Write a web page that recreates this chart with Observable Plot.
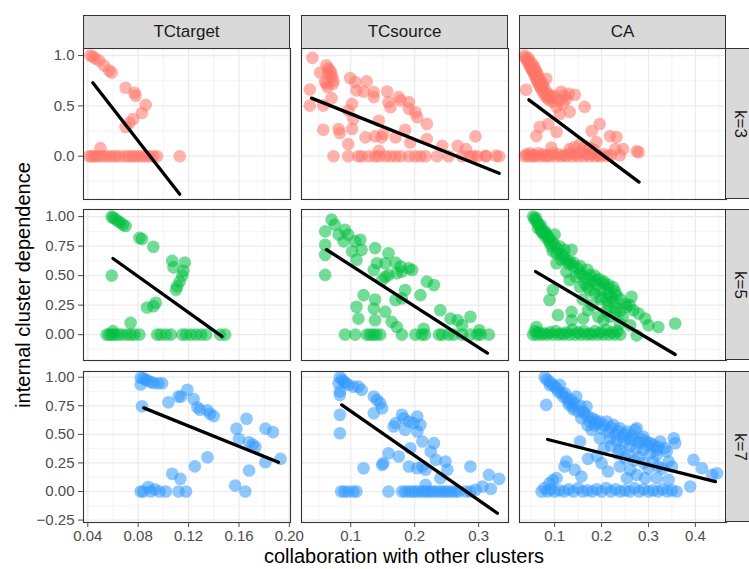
<!DOCTYPE html>
<html><head><meta charset="utf-8">
<script src="https://cdn.jsdelivr.net/npm/d3@7"></script>
<script src="https://cdn.jsdelivr.net/npm/@observablehq/plot@0.6"></script>
<style>
html,body{margin:0;padding:0;background:#fff;overflow:hidden;}
#chart{position:relative;width:749px;height:569px;overflow:hidden;font-family:"Liberation Sans",Arial,sans-serif;}
.panel{position:absolute;overflow:visible;}
.strip{position:absolute;box-sizing:border-box;background:#d9d9d9;border:1px solid #333;color:#1a1a1a;font-size:17px;display:flex;align-items:center;justify-content:center;}
.strip.right{justify-content:flex-start;padding-left:6px;border-right:none;}
.strip span.v{writing-mode:vertical-rl;line-height:17px;}
.title{position:absolute;color:#000;font-size:20px;white-space:nowrap;}
</style></head>
<body><div id="chart"></div>
<script>
const methods = ["TCtarget", "TCsource", "CA"];
const kLabels = ["k=3", "k=5", "k=7"];
const colors = ["#FF7468", "#00BF40", "#3399FF"];
const xTitle = "collaboration with other clusters";
const yTitle = "internal cluster dependence";

const xDomains = [[0.0366, 0.2009], [0.023, 0.3466], [0.025, 0.4664]];
const yDomains = [[-0.43, 1.07], [-0.219, 1.06], [-0.271, 1.05]];
const xMajor = [[0.04, 0.08, 0.12, 0.16, 0.20], [0.1, 0.2, 0.3], [0.1, 0.2, 0.3, 0.4]];
const xMinor = [[0.06, 0.10, 0.14, 0.18], [0.05, 0.15, 0.25], [0.05, 0.15, 0.25, 0.35, 0.45]];
const yMajor = [[0, 0.5, 1], [0, 0.25, 0.5, 0.75, 1], [-0.25, 0, 0.25, 0.5, 0.75, 1]];
const yMinor = [[-0.25, 0.25, 0.75], [-0.125, 0.125, 0.375, 0.625, 0.875], [-0.125, 0.125, 0.375, 0.625, 0.875]];
const xDecimals = [2, 1, 1];
const yDecimals = [1, 2, 2];

// ---- k=3 ----
const tgtK3 = [[0.042,1.0],[0.044,0.99],[0.046,0.97],[0.049,0.95],[0.053,0.9],[0.057,0.85],[0.059,0.83],[0.070,0.68],[0.077,0.63],[0.078,0.60],[0.086,0.51],[0.083,0.43],[0.076,0.37],[0.073,0.33],[0.070,0.29],[0.050,0.08],
 [0.041,0],[0.043,0],[0.045,0],[0.047,0],[0.050,0],[0.053,0],[0.056,0],[0.059,0],[0.062,0],[0.065,0],[0.069,0],[0.072,0],[0.075,0],[0.077,0],[0.080,0],[0.083,0],[0.086,0],[0.089,0],[0.092,0],[0.095,0],[0.113,0]];
const srcK3 = [[0.040,0.977],[0.052,0.83],[0.062,0.903],[0.065,0.87],[0.068,0.85],[0.070,0.82],[0.064,0.82],[0.070,0.787],[0.073,0.753],[0.060,0.737],[0.062,0.72],[0.072,0.72],[0.064,0.687],[0.036,0.663],[0.036,0.503],[0.057,0.503],[0.070,0.577],
 [0.099,0.777],[0.107,0.737],[0.125,0.743],[0.109,0.653],[0.120,0.643],[0.136,0.637],[0.136,0.587],[0.102,0.52],[0.096,0.453],[0.104,0.37],
 [0.157,0.643],[0.159,0.537],[0.162,0.487],[0.175,0.587],[0.178,0.553],[0.191,0.537],[0.191,0.47],[0.201,0.437],[0.204,0.387],[0.219,0.32],
 [0.144,0.353],[0.151,0.22],[0.057,0.263],[0.081,0.27],[0.083,0.23],[0.102,0.27],[0.096,0.12],
 [0.123,0.187],[0.138,0.197],[0.148,0.187],[0.170,0.187],[0.185,0.263],[0.193,0.137],[0.219,0.17],[0.243,0.103],[0.267,0.103],[0.280,0.07],[0.295,0.197],[0.311,0.003],[0.327,0.003],[0.332,0],[0.144,0.053],
 [0.073,0],[0.096,0],[0.112,0],[0.117,0],[0.128,0],[0.138,0],[0.144,0],[0.154,0],[0.162,0],[0.170,0],[0.178,0],[0.191,0],[0.201,0],[0.209,0],[0.217,0],[0.235,0],[0.253,0],[0.274,0],[0.287,0],[0.292,0],[0.298,0],[0.311,0]];
const caK3 = [[0.036,1.0],[0.038,0.98],[0.040,0.96],[0.042,0.95],[0.044,0.93],[0.046,0.91],[0.048,0.89],[0.050,0.87],[0.052,0.86],[0.054,0.84],[0.056,0.82],[0.058,0.80],[0.060,0.78],[0.062,0.76],[0.064,0.74],[0.066,0.72],[0.068,0.70],[0.070,0.68],[0.073,0.66],[0.076,0.63],[0.080,0.60],[0.084,0.58],[0.088,0.56],[0.050,0.93],[0.056,0.88],[0.062,0.83],[0.068,0.77],[0.074,0.72],
 [0.045,0.97],[0.055,0.9],[0.065,0.8],[0.075,0.7],[0.085,0.62],[0.090,0.6],[0.095,0.58],[0.080,0.66],[0.070,0.74],[0.060,0.85],[0.120,0.6],[0.130,0.62],
 [0.039,0.66],[0.082,0.77],[0.114,0.64],[0.143,0.61],[0.125,0.57],[0.096,0.54],[0.104,0.49],[0.132,0.44],[0.164,0.49],[0.111,0.42],[0.068,0.29],[0.061,0.2],[0.104,0.24],[0.086,0.32],[0.196,0.32],[0.179,0.25],[0.189,0.14],[0.218,0.2],[0.232,0.19],[0.229,0.07],[0.246,0.07],[0.239,0.01],[0.275,0.05],[0.279,0.04],[0.093,0.087],[0.100,0.6],[0.110,0.55],[0.118,0.52],
 [0.132,0.07],[0.142,0.09],[0.154,0.12],[0.165,0.1],[0.175,0.08],[0.185,0.06],
 [0.036,0.0],[0.040,0.02],[0.044,0.0],[0.048,0.03],[0.052,0.0],[0.056,0.01],[0.060,0.0],[0.065,0.03],[0.070,0.0],[0.075,0.02],[0.080,0.0],[0.085,0.01],[0.090,0.0],[0.096,0.03],[0.102,0.0],[0.108,0.02],[0.114,0.0],[0.120,0.01],[0.126,0.0],[0.132,0.03],[0.138,0.0],[0.144,0.02],[0.150,0.0],[0.156,0.04],[0.162,0.0],[0.168,0.02],[0.174,0.0],[0.180,0.03],[0.186,0.0],[0.192,0.01],[0.198,0.0],[0.205,0.02],[0.212,0.0],[0.220,0.01]];

// ---- k=5 ----
const tgtK5 = [[0.059,1.0],[0.060,0.99],[0.062,0.98],[0.064,0.96],[0.066,0.95],[0.068,0.93],[0.070,0.92],[0.081,0.82],[0.083,0.81],[0.092,0.745],[0.107,0.625],[0.108,0.57],[0.117,0.61],[0.116,0.54],[0.115,0.5],[0.113,0.45],[0.111,0.41],[0.110,0.38],[0.094,0.27],[0.092,0.24],[0.087,0.23],[0.074,0.1],[0.059,0.5],[0.060,0.03],
 [0.055,0],[0.057,0],[0.059,0],[0.061,0],[0.064,0],[0.067,0],[0.071,0],[0.074,0],[0.077,0],[0.081,0],[0.095,0],[0.098,0],[0.102,0],[0.106,0],[0.115,0],[0.118,0],[0.122,0],[0.126,0],[0.130,0],[0.134,0],[0.145,0],[0.149,0]];
const srcK5 = [[0.070,0.974],[0.075,0.932],[0.060,0.875],[0.091,0.889],[0.096,0.847],[0.081,0.847],[0.089,0.79],[0.107,0.79],[0.115,0.804],[0.117,0.719],[0.102,0.705],[0.109,0.634],[0.060,0.761],[0.060,0.676],[0.060,0.506],
 [0.138,0.733],[0.159,0.69],[0.141,0.605],[0.154,0.605],[0.170,0.611],[0.178,0.577],[0.180,0.534],[0.191,0.563],[0.196,0.548],[0.154,0.491],[0.136,0.548],[0.149,0.463],[0.159,0.506],[0.172,0.52],
 [0.219,0.449],[0.230,0.42],[0.209,0.335],[0.185,0.378],[0.180,0.307],[0.170,0.293],
 [0.120,0.335],[0.138,0.298],[0.109,0.236],[0.112,0.136],[0.136,0.222],[0.138,0.122],[0.154,0.193],[0.164,0.108],[0.172,0.065],
 [0.240,0.207],[0.256,0.136],[0.267,0.122],[0.287,0.151],[0.274,0.08],[0.214,0.05],[0.301,0.037],
 [0.091,0],[0.107,0],[0.125,0],[0.130,0],[0.135,0],[0.140,0],[0.146,0],[0.180,0],[0.201,0],[0.211,0],[0.216,0],[0.238,0],[0.243,0],[0.253,0],[0.261,0],[0.274,0],[0.287,0],[0.298,0],[0.303,0],[0.316,0]];
const caK5 = [[0.054,1.0],[0.057,0.98],[0.061,0.96],[0.064,0.94],[0.068,0.918],[0.071,0.89],[0.075,0.861],[0.080,0.83],[0.086,0.804],[0.090,0.775],[0.093,0.747],[0.100,0.847],[0.096,0.705],[0.104,0.69],[0.111,0.747],[0.121,0.719],[0.136,0.719],[0.104,0.605],[0.114,0.634],[0.132,0.619],[0.060,0.99],[0.070,0.93],[0.078,0.88],[0.083,0.85],
 [0.065,0.9],[0.072,0.87],[0.080,0.86],[0.088,0.82],[0.095,0.79],[0.100,0.76],[0.108,0.72],[0.115,0.68],[0.120,0.66],[0.125,0.63],[0.130,0.6],[0.140,0.61],[0.155,0.58],[0.170,0.55],[0.185,0.5],[0.195,0.47],[0.205,0.45],[0.215,0.42],[0.225,0.4],[0.170,0.4],[0.185,0.35],[0.200,0.3],[0.215,0.25],[0.230,0.19],[0.245,0.15],[0.210,0.2],[0.180,0.25],[0.160,0.3],[0.240,0.3],[0.260,0.25],
 [0.125,0.534],[0.154,0.52],[0.168,0.477],[0.175,0.506],[0.189,0.463],[0.204,0.435],[0.214,0.392],[0.229,0.364],[0.232,0.335],[0.132,0.463],[0.154,0.406],[0.175,0.378],[0.196,0.321],[0.211,0.293],[0.225,0.278],[0.140,0.58],[0.150,0.56],[0.160,0.5],[0.180,0.45],[0.190,0.42],[0.200,0.38],[0.165,0.43],[0.145,0.49],[0.215,0.35],[0.220,0.32],
 [0.096,0.378],[0.089,0.293],[0.107,0.165],[0.136,0.193],[0.136,0.122],[0.161,0.136],[0.171,0.207],[0.193,0.151],[0.204,0.122],[0.218,0.151],[0.264,0.321],[0.254,0.236],[0.268,0.207],[0.279,0.179],[0.293,0.136],[0.300,0.08],[0.321,0.065],[0.357,0.094],[0.275,-0.006],[0.239,0.094],[0.261,0.08],[0.061,0.065],[0.250,0.26],[0.240,0.2],[0.230,0.23],
 [0.054,0.0],[0.058,0.03],[0.062,0.0],[0.066,0.02],[0.072,0.0],[0.078,0.01],[0.084,0.0],[0.090,0.02],[0.096,0.0],[0.102,0.03],[0.108,0.0],[0.114,0.01],[0.120,0.0],[0.126,0.02],[0.132,0.0],[0.138,0.04],[0.144,0.0],[0.150,0.02],[0.156,0.0],[0.162,0.03],[0.168,0.0],[0.174,0.01],[0.180,0.0],[0.186,0.03],[0.192,0.0],[0.198,0.02],[0.204,0.0],[0.210,0.04],[0.216,0.0],[0.222,0.02],[0.228,0.0],[0.234,0.03],[0.240,0.0]];

// ---- k=7 ----
const tgtK7 = [[0.082,0.995],[0.084,0.99],[0.086,0.98],[0.087,0.97],[0.090,0.96],[0.092,0.95],[0.096,0.947],[0.099,0.947],[0.082,0.936],[0.083,0.746],[0.104,0.78],[0.112,0.83],[0.114,0.83],[0.119,0.89],[0.124,0.81],[0.127,0.737],[0.129,0.715],[0.135,0.71],[0.137,0.68],[0.140,0.66],[0.158,0.55],[0.160,0.46],[0.166,0.636],[0.168,0.43],[0.171,0.41],[0.173,0.39],[0.181,0.55],[0.187,0.52],[0.181,0.256],[0.193,0.286],[0.168,0.184],[0.135,0.3],[0.125,0.22],[0.107,0.155],[0.1135,0.111],[0.157,0.052],[0.165,0.0],
 [0.082,0],[0.084,0],[0.088,0.04],[0.090,0],[0.093,0.02],[0.097,0.0],[0.102,0],[0.112,0],[0.118,0]];
const srcK7 = [[0.083,1.0],[0.081,0.947],[0.083,0.875],[0.089,0.962],[0.096,0.933],[0.104,0.918],[0.112,0.918],[0.117,0.889],[0.083,0.845],[0.083,0.671],[0.083,0.51],[0.086,0.98],[0.092,0.95],
 [0.136,0.831],[0.141,0.802],[0.146,0.773],[0.149,0.729],[0.136,0.685],
 [0.180,0.671],[0.183,0.641],[0.170,0.598],[0.167,0.569],[0.191,0.612],[0.204,0.656],[0.198,0.598],[0.204,0.525],[0.185,0.539],[0.209,0.583],
 [0.212,0.437],[0.230,0.423],[0.225,0.35],[0.233,0.277],[0.248,0.262],[0.251,0.19],[0.240,0.117],
 [0.193,0.379],[0.175,0.306],[0.159,0.335],[0.151,0.248],[0.149,0.233],[0.191,0.219],[0.204,0.204],[0.212,0.219],[0.217,0.19],[0.120,0.204],
 [0.287,0.219],[0.316,0.146],[0.332,0.111],[0.319,0.023],[0.306,0.044],[0.295,0.015],[0.217,0.058],
 [0.085,0],[0.090,0],[0.096,0],[0.104,0],[0.109,0],[0.159,0],[0.180,0],[0.185,0],[0.191,0],[0.196,0],[0.201,0],[0.206,0],[0.212,0],[0.217,0],[0.222,0],[0.227,0],[0.232,0],[0.238,0],[0.243,0],[0.248,0],[0.253,0],[0.259,0],[0.264,0],[0.269,0],[0.280,0],[0.287,0]];
const caK7 = [[0.079,1.0],[0.083,0.98],[0.089,0.962],[0.095,0.94],[0.100,0.918],[0.107,0.875],[0.111,0.933],[0.118,0.831],[0.129,0.787],[0.139,0.743],[0.146,0.831],[0.168,0.743],[0.150,0.7],[0.157,0.641],[0.164,0.685],[0.082,0.758],[0.122,0.86],[0.135,0.8],[0.142,0.77],[0.155,0.75],
 [0.090,0.93],[0.105,0.9],[0.115,0.86],[0.125,0.82],[0.130,0.76],[0.140,0.72],[0.160,0.7],[0.170,0.66],[0.180,0.64],[0.190,0.6],[0.205,0.58],[0.220,0.56],[0.235,0.53],[0.250,0.5],[0.265,0.49],[0.285,0.46],[0.295,0.44],[0.310,0.41],[0.320,0.39],[0.335,0.38],[0.220,0.4],[0.235,0.33],[0.250,0.29],[0.270,0.27],[0.290,0.25],[0.300,0.2],[0.320,0.22],[0.205,0.38],[0.190,0.31],
 [0.175,0.612],[0.186,0.627],[0.196,0.612],[0.211,0.612],[0.225,0.583],[0.239,0.554],[0.254,0.525],[0.271,0.539],[0.275,0.554],[0.289,0.481],[0.304,0.423],[0.318,0.364],[0.325,0.437],[0.354,0.466],[0.357,0.423],[0.339,0.35],[0.343,0.262],[0.350,0.219],
 [0.179,0.539],[0.196,0.466],[0.218,0.466],[0.232,0.437],[0.246,0.423],[0.261,0.394],[0.275,0.379],[0.289,0.364],[0.304,0.335],[0.318,0.321],[0.239,0.364],[0.257,0.321],[0.200,0.55],[0.215,0.52],[0.230,0.5],[0.245,0.48],[0.260,0.46],[0.280,0.43],[0.300,0.4],[0.270,0.45],[0.185,0.58],[0.170,0.58],
 [0.154,0.437],[0.171,0.286],[0.125,0.262],[0.143,0.19],[0.157,0.131],[0.121,0.219],[0.200,0.248],[0.214,0.175],[0.239,0.219],[0.261,0.19],[0.254,0.117],[0.275,0.146],[0.293,0.117],[0.318,0.117],[0.343,0.102],[0.396,0.277],[0.414,0.204],[0.436,0.146],[0.446,0.16],[0.389,0.044],[0.104,0.117],[0.089,0.073],[0.096,0.1],[0.280,0.3],[0.310,0.26],[0.330,0.2],
 [0.072,0.0],[0.078,0.03],[0.085,0.0],[0.092,0.02],[0.100,0.0],[0.110,0.01],[0.120,0.0],[0.130,0.02],[0.140,0.0],[0.150,0.03],[0.160,0.0],[0.170,0.01],[0.180,0.0],[0.190,0.02],[0.200,0.0],[0.210,0.03],[0.220,0.0],[0.230,0.02],[0.240,0.0],[0.250,0.01],[0.260,0.0],[0.270,0.03],[0.280,0.0],[0.290,0.02],[0.300,0.0],[0.310,0.01],[0.320,0.0],[0.330,0.02],[0.340,0.0],[0.350,0.01],[0.360,0.0]];

// fitted regression lines: [[x1, y1], [x2, y2]]
const fitK3 = [[[0.044,0.73],[0.113,-0.377]], [[0.0387,0.577],[0.332,-0.17]], [[0.045,0.56],[0.28,-0.257]]];
const fitK5 = [[[0.060,0.645],[0.1465,-0.015]], [[0.0623,0.719],[0.3136,-0.156]], [[0.0593,0.534],[0.3571,-0.168]]];
const fitK7 = [[[0.0844,0.732],[0.1913,0.256]], [[0.0859,0.758],[0.3293,-0.19]], [[0.0850,0.455],[0.4429,0.087]]];

const points = [[tgtK3, srcK3, caK3], [tgtK5, srcK5, caK5], [tgtK7, srcK7, caK7]];
const fits = [fitK3, fitK5, fitK7];

const colLeft = [83, 301, 519];
const rowTop = [48, 209, 371];
const W = 207, H = 151;
const fontFamily = "'Liberation Sans', Arial, sans-serif";
const fmt = (dec) => (d) => d.toFixed(dec).replace("-", "\u2212");

const chart = document.getElementById("chart");

for (let r = 0; r < 3; r++) {
  for (let c = 0; c < 3; c++) {
    const ml = c === 0 ? 84 : 1, mr = 1, mt = 1, mb = r === 2 ? 48 : 1;
    const svg = Plot.plot({
      width: ml + W + mr, height: mt + H + mb,
      marginLeft: ml, marginRight: mr, marginTop: mt, marginBottom: mb,
      style: {background: "transparent", fontFamily, fontSize: "15px", overflow: "visible"},
      x: {domain: xDomains[c], axis: null},
      y: {domain: yDomains[r], axis: null},
      marks: [
        Plot.ruleX(xMinor[c], {stroke: "#ebebeb", strokeWidth: 0.6}),
        Plot.ruleY(yMinor[r], {stroke: "#ebebeb", strokeWidth: 0.6}),
        Plot.ruleX(xMajor[c], {stroke: "#ebebeb", strokeWidth: 1.2}),
        Plot.ruleY(yMajor[r], {stroke: "#ebebeb", strokeWidth: 1.2}),
        Plot.dot(points[r][c], {x: d => d[0], y: d => d[1], r: 6.3, fill: colors[r], fillOpacity: 0.55}),
        Plot.line(fits[r][c], {x: d => d[0], y: d => d[1], stroke: "black", strokeWidth: 3.3}),
        Plot.frame({stroke: "#333", strokeWidth: 1.1}),
        c === 0 ? Plot.axisY(yMajor[r], {anchor: "left", tickSize: 5, tickPadding: 4, tickFormat: fmt(yDecimals[r]), fontSize: 15, color: "#4d4d4d", label: null}) : null,
        r === 2 ? Plot.axisX(xMajor[c], {anchor: "bottom", tickSize: 5, tickPadding: 3, tickFormat: fmt(xDecimals[c]), fontSize: 15, color: "#4d4d4d", label: null}) : null
      ]
    });
    svg.classList.add("panel");
    svg.style.left = (colLeft[c] - ml) + "px";
    svg.style.top = (rowTop[r] - mt) + "px";
    chart.appendChild(svg);
  }
}

methods.forEach((m, c) => {
  const d = document.createElement("div");
  d.className = "strip";
  d.style.left = colLeft[c] + "px"; d.style.top = "15px";
  d.style.width = W + "px"; d.style.height = "34px";
  d.textContent = m;
  chart.appendChild(d);
});
kLabels.forEach((k, r) => {
  const d = document.createElement("div");
  d.className = "strip right";
  const left = colLeft[2] + W - 1;
  d.style.left = left + "px"; d.style.top = rowTop[r] + "px";
  d.style.width = (749 - left) + "px"; d.style.height = H + "px";
  const s = document.createElement("span"); s.className = "v"; s.textContent = k;
  d.appendChild(s);
  chart.appendChild(d);
});

const xt = document.createElement("div");
xt.className = "title"; xt.textContent = xTitle;
xt.style.left = "404px"; xt.style.top = "556px"; xt.style.transform = "translate(-50%,-50%)";
chart.appendChild(xt);
const yt = document.createElement("div");
yt.className = "title"; yt.textContent = yTitle;
yt.style.left = "23px"; yt.style.top = "285px"; yt.style.transform = "translate(-50%,-50%) rotate(-90deg)";
chart.appendChild(yt);
</script>
</body></html>
